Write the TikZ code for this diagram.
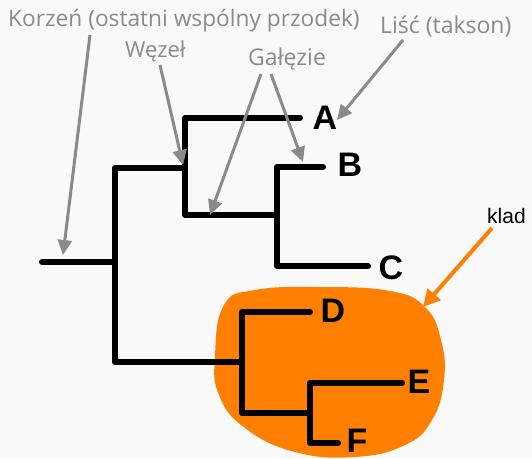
\documentclass[tikz,border=0pt]{standalone}
\usepackage{fontspec}
\setmainfont{Liberation Sans}
\newfontfamily\notefont{Open Sans}
\usetikzlibrary{arrows.meta}
\definecolor{bg}{HTML}{F9F9F9}
\definecolor{notegray}{HTML}{8A8A8A}
\definecolor{cladeorange}{HTML}{FF7F00}

\begin{document}
\begin{tikzpicture}[x=1pt,y=-1pt,
  branch/.style={line width=6pt, line cap=round, line join=round},
  taxon/.style={font=\bfseries\fontsize{34}{34}\selectfont, inner sep=0pt},
  note/.style={text=notegray, font=\notefont\fontsize{22.7}{22.7}\selectfont, inner sep=0pt},
  pointer/.style={draw=notegray, line width=3pt, -{Triangle[length=15pt,width=14pt]}},
  cladepointer/.style={draw=cladeorange, line width=4pt, -{Triangle[length=17pt,width=17pt]}},
]
\fill[bg] (0,0) rectangle (532,458);
\useasboundingbox (0,0) rectangle (532,458);

% highlighted clade D-E-F
\fill[cladeorange] plot[smooth cycle, tension=0.75] coordinates {
  (224,305) (255,290) (320,287) (390,291) (425,307) (441,340) (444,380)
  (432,420) (405,445) (355,457) (295,452) (245,428) (219,395) (215,355)};

% internal nodes and leaf tips of the tree
\coordinate (rootTip) at (42,262);
\coordinate (root) at (115,262);
\coordinate (nABC) at (185,168);
\coordinate (nBC) at (277,215);
\coordinate (nDEF) at (242,362);
\coordinate (nEF) at (310,413);
\coordinate (tipA) at (300,118);
\coordinate (tipB) at (323,167);
\coordinate (tipC) at (368,266);
\coordinate (tipD) at (310,312);
\coordinate (tipE) at (402,383);
\coordinate (tipF) at (338,443);

% branches
\draw[branch] (rootTip) -- (root);
\draw[branch] (nABC) -- (nABC -| root) -- (nDEF -| root) -- (nDEF);
\draw[branch] (tipA) -- (tipA -| nABC) -- (nBC -| nABC) -- (nBC);
\draw[branch] (tipB) -- (tipB -| nBC) -- (tipC -| nBC) -- (tipC);
\draw[branch] (tipD) -- (tipD -| nDEF) -- (nEF -| nDEF) -- (nEF);
\draw[branch] (tipE) -- (tipE -| nEF) -- (tipF -| nEF) -- (tipF);

% taxon labels
\node[taxon] (A) at (325,118) {A};
\node[taxon] (B) at (350,165) {B};
\node[taxon] (C) at (391,268) {C};
\node[taxon] (D) at (333,311) {D};
\node[taxon] (E) at (419,382) {E};
\node[taxon] (F) at (357,441) {F};

% annotations
\node[note, anchor=base west] (korzen) at (8,26) {Korzeń (ostatni wspólny przodek)};
\node[note, anchor=base west, font=\notefont\fontsize{22}{22}\selectfont] (wezel) at (125,57) {Węzeł};
\node[note, anchor=base west, font=\notefont\fontsize{23}{23}\selectfont] (galezie) at (248,65) {Gałęzie};
\node[note, anchor=base west, font=\notefont\fontsize{23}{23}\selectfont] (lisc) at (380,33) {Liść (takson)};
\node[anchor=base west, inner sep=0pt, font=\fontsize{21}{21}\selectfont] (klad) at (487,223) {klad};

% pointer ends
\coordinate (korzenFrom) at (90,35);
\coordinate (korzenTo) at (63,255);
\coordinate (wezelFrom) at (160,65);
\coordinate (wezelTo) at (183,165);
\coordinate (galeziFromL) at (261,74);
\coordinate (galeziToL) at (210,215);
\coordinate (galeziFromR) at (271,74);
\coordinate (galeziToR) at (303,162);
\coordinate (liscFrom) at (403,40);
\coordinate (liscTo) at (337,120);
\coordinate (kladFrom) at (492,228);
\coordinate (kladTo) at (423,307);

\draw[pointer] (korzenFrom) -- (korzenTo);
\draw[pointer] (wezelFrom) -- (wezelTo);
\draw[pointer] (galeziFromL) -- (galeziToL);
\draw[pointer] (galeziFromR) -- (galeziToR);
\draw[pointer] (liscFrom) -- (liscTo);
\draw[cladepointer] (kladFrom) -- (kladTo);
\end{tikzpicture}
\end{document}
